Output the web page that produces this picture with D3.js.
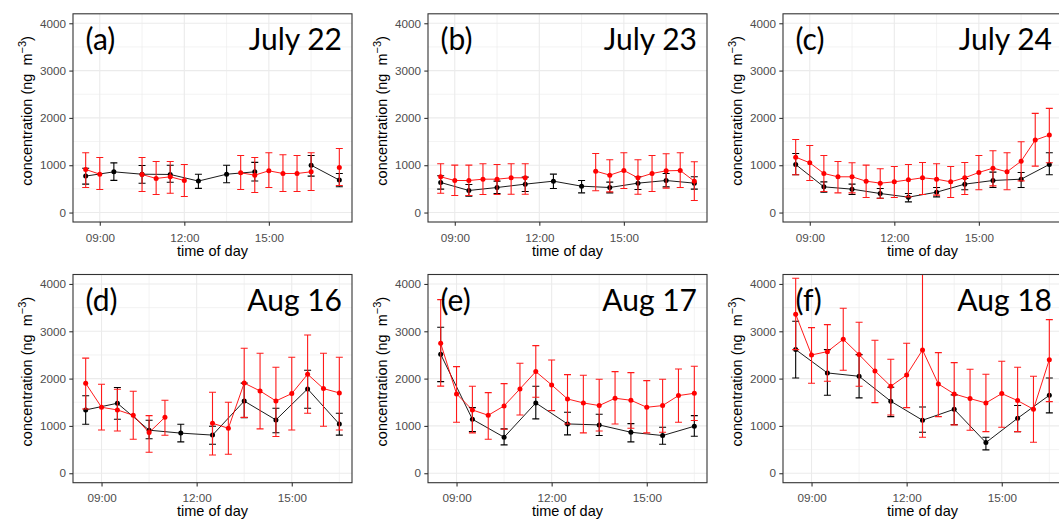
<!DOCTYPE html>
<html><head><meta charset="utf-8">
<script src="https://cdn.jsdelivr.net/npm/d3@7"></script>
<style>
html,body{margin:0;padding:0;background:#fff;}
svg{display:block;}
</style>
</head><body>
<script>
// ---------------- data ----------------
const panelLetters = ["(a)", "(b)", "(c)", "(d)", "(e)", "(f)"];
const panelDates = ["July 22", "July 23", "July 24", "Aug 16", "Aug 17", "Aug 18"];
const yTickValues = [0, 1000, 2000, 3000, 4000];
const xTickLabels = ["09:00", "12:00", "15:00"];

// July days: half-hourly (red) and hourly (black) times
const julyHalfTimes = ["08:30","09:00","09:30","10:00","10:30","11:00","11:30","12:00","12:30","13:00","13:30","14:00","14:30","15:00","15:30","16:00","16:30","17:00","17:30"];
const julyHourTimes = ["08:30","09:30","10:30","11:30","12:30","13:30","14:30","15:30","16:30","17:30"];
// August days
const augHalfTimes = ["08:30","09:00","09:30","10:00","10:30","11:00","11:30","12:00","12:30","13:00","13:30","14:00","14:30","15:00","15:30","16:00","16:30"];
const augHourTimes = ["08:30","09:30","10:30","11:30","12:30","13:30","14:30","15:30","16:30"];

// (a) July 22
const aBlack   = [770, 860, 810, 805, 665, 810, 860, null, 1000, 685];
const aBlackLo = [600, 680, 620, 640, 510, 630, 665, null, 770, 545];
const aBlackHi = [935, 1050, 995, 1000, 810, 1000, 1060, null, 1205, 825];
const aRed     = [910, 811, null, null, 804, 720, 755, 677, null, null, null, 840, 790, 882, 825, 825, 861, null, 952];
const aRedLo   = [530, 487, null, null, 444, 381, 409, 339, null, null, null, 487, 423, 529, 444, 444, 466, null, 571];
const aRedHi   = [1263, 1164, null, null, 1164, 1079, 1079, 1016, null, null, null, 1206, 1164, 1263, 1220, 1206, 1263, null, 1354];

// (b) July 23
const bBlack   = [635, 466, 529, 600, 663, 557, 529, 621, 677, 621];
const bBlackLo = [494, 346, 402, 444, 508, 416, 416, 487, 543, 494];
const bBlackHi = [776, 593, 663, 748, 811, 677, 642, 755, 825, 755];
const bRed     = [755, 677, 677, 705, 705, 734, 734, null, null, null, null, 875, 790, 889, 734, 825, 882, 889, 663];
const bRedLo   = [409, 360, 360, 381, 381, 388, 388, null, null, null, null, 459, 437, 508, 388, 444, 515, 529, 254];
const bRedHi   = [1030, 1002, 1002, 1030, 1016, 1030, 1030, null, null, null, null, 1249, 1115, 1263, 1115, 1206, 1242, 1263, 1072];

// (c) July 24
const cBlack   = [1016, 543, 494, 402, 325, 430, 600, 677, 705, 1016];
const cBlackLo = [797, 430, 381, 303, 226, 332, 480, 529, 529, 797];
const cBlackHi = [1249, 649, 600, 508, 402, 529, 720, 854, 847, 1263];
const cRed     = [1171, 1051, 825, 755, 755, 663, 621, 649, 691, 734, 705, 649, 734, 847, 938, 861, 1086, 1531, 1637];
const cRedLo   = [797, 677, 444, 416, 416, 317, 303, 317, 332, 381, 367, 317, 381, 480, 564, 480, 670, 981, 1051];
const cRedHi   = [1545, 1418, 1206, 1079, 1051, 1002, 924, 974, 1016, 1058, 1030, 974, 1058, 1206, 1305, 1263, 1496, 2095, 2201];

// (d) Aug 16
const dBlack   = [1338, 1479, 910, 848, 806, 1525, 1127, 1782, 1040];
const dBlackLo = [1035, 1141, 730, 662, 613, 1176, 855, 1373, 806];
const dBlackHi = [1638, 1812, 1120, 1035, 993, 1905, 1373, 2176, 1268];
const dRed     = [1901, 1394, 1338, 1225, 859, 1183, null, null, 1056, 951, 1905, 1739, 1528, 1683, 2092, 1789, 1697];
const dRedLo   = [1359, 915, 894, 718, 444, 803, null, null, 385, 401, 1180, 937, 775, 915, 1268, 993, 915];
const dRedHi   = [2432, 1880, 1775, 1732, 1218, 1542, null, null, 1711, 1500, 2641, 2535, 2239, 2451, 2923, 2535, 2451];

// (e) Aug 17
const eBlack   = [2514, 1141, 761, 1486, 1042, 1021, 866, 796, 993];
const eBlackLo = [1937, 880, 599, 1148, 810, 796, 662, 613, 782];
const eBlackHi = [3085, 1387, 937, 1838, 1289, 1246, 1049, 972, 1218];
const eRed     = [2746, 1676, 1338, 1225, 1423, 1782, 2148, 1866, 1570, 1486, 1430, 1585, 1542, 1394, 1430, 1641, 1690];
const eRedLo   = [1841, 1077, 852, 718, 930, 1232, 1606, 1324, 1042, 852, 894, 1042, 951, 852, 866, 1077, 1113];
const eRedHi   = [3669, 2254, 1838, 1704, 1894, 2324, 2697, 2394, 2085, 2070, 1986, 2148, 2127, 1958, 1986, 2204, 2261];

// (f) Aug 18
const fBlack   = [2613, 2120, 2049, 1521, 1120, 1352, 648, 1162, 1648];
const fBlackLo = [2014, 1648, 1592, 1197, 866, 1028, 493, 880, 1275];
const fBlackHi = [3211, 2613, 2507, 1817, 1401, 1655, 761, 1430, 2014];
const fRed     = [3359, 2500, 2570, 2831, 2507, 2162, 1838, 2077, 2606, 1887, 1676, 1577, 1486, 1683, 1535, 1352, 2401];
const fRedLo   = [2613, 1901, 1944, 2176, 1838, 1493, 1232, 1387, 761, 1197, 1021, 908, 880, 972, 880, 655, 1514];
const fRedHi   = [4120, 3077, 3141, 3486, 3190, 2810, 2408, 2746, 4600, 2549, 2338, 2197, 2092, 2366, 2239, 2049, 3246];

// ---------------- build ----------------
const toHours = s => { const [h, m] = s.split(":").map(Number); return h + m / 60; };
const zip = (times, v, lo, hi) => times.map((t, i) => ({ x: toHours(t), v: v[i], lo: lo[i], hi: hi[i] }));

const panels = [
  { black: zip(julyHourTimes, aBlack, aBlackLo, aBlackHi), red: zip(julyHalfTimes, aRed, aRedLo, aRedHi), xdom: [8.05, 17.95] },
  { black: zip(julyHourTimes, bBlack, bBlackLo, bBlackHi), red: zip(julyHalfTimes, bRed, bRedLo, bRedHi), xdom: [8.05, 17.95] },
  { black: zip(julyHourTimes, cBlack, cBlackLo, cBlackHi), red: zip(julyHalfTimes, cRed, cRedLo, cRedHi), xdom: [8.05, 17.95] },
  { black: zip(augHourTimes, dBlack, dBlackLo, dBlackHi), red: zip(augHalfTimes, dRed, dRedLo, dRedHi), xdom: [8.1, 16.9] },
  { black: zip(augHourTimes, eBlack, eBlackLo, eBlackHi), red: zip(augHalfTimes, eRed, eRedLo, eRedHi), xdom: [8.1, 16.9] },
  { black: zip(augHourTimes, fBlack, fBlackLo, fBlackHi), red: zip(augHalfTimes, fRed, fRedLo, fRedHi), xdom: [8.1, 16.9] }
];

const W = 1059, H = 519;
const colLeft = [73, 428, 783];
const rowTop = [13.8, 274.5];
const pw = 279, ph = 208.2;
const capHalf = 3.5;

const svg = d3.select("body").append("svg").attr("width", W).attr("height", H);
svg.append("rect").attr("width", W).attr("height", H).attr("fill", "#fff");
const defs = svg.append("defs");

panels.forEach((p, i) => {
  const L = colLeft[i % 3], T = rowTop[Math.floor(i / 3)];
  const x = d3.scaleLinear().domain(p.xdom).range([L, L + pw]);
  const y = d3.scaleLinear().domain([-200, 4200]).range([T + ph, T]);
  const g = svg.append("g");
  const cid = "clip" + i;
  defs.append("clipPath").attr("id", cid).append("rect")
    .attr("x", L).attr("y", T).attr("width", pw).attr("height", ph);

  // grid
  const grid = g.append("g");
  const minorY = [500, 1500, 2500, 3500];
  const minorX = [10.5, 13.5, 16.5];
  grid.selectAll(".my").data(minorY).join("line")
    .attr("x1", L).attr("x2", L + pw).attr("y1", d => y(d)).attr("y2", d => y(d))
    .attr("stroke", "#ebebeb").attr("stroke-width", 0.6);
  grid.selectAll(".mx").data(minorX).join("line")
    .attr("y1", T).attr("y2", T + ph).attr("x1", d => x(d)).attr("x2", d => x(d))
    .attr("stroke", "#ebebeb").attr("stroke-width", 0.6);
  grid.selectAll(".Y").data(yTickValues).join("line")
    .attr("x1", L).attr("x2", L + pw).attr("y1", d => y(d)).attr("y2", d => y(d))
    .attr("stroke", "#ebebeb").attr("stroke-width", 1.1);
  grid.selectAll(".X").data([9, 12, 15]).join("line")
    .attr("y1", T).attr("y2", T + ph).attr("x1", d => x(d)).attr("x2", d => x(d))
    .attr("stroke", "#ebebeb").attr("stroke-width", 1.1);

  const plot = g.append("g").attr("clip-path", `url(#${cid})`);

  function drawSeries(data, color, barColor) {
    const pts = data.filter(d => d.v != null);
    const eb = plot.append("g").attr("stroke", barColor).attr("stroke-width", 1.1).attr("fill", "none");
    pts.forEach(d => {
      eb.append("line").attr("x1", x(d.x)).attr("x2", x(d.x)).attr("y1", y(d.lo)).attr("y2", y(d.hi));
      eb.append("line").attr("x1", x(d.x) - capHalf).attr("x2", x(d.x) + capHalf).attr("y1", y(d.lo)).attr("y2", y(d.lo));
      eb.append("line").attr("x1", x(d.x) - capHalf).attr("x2", x(d.x) + capHalf).attr("y1", y(d.hi)).attr("y2", y(d.hi));
    });
    const line = d3.line().defined(d => d.v != null).x(d => x(d.x)).y(d => y(d.v));
    plot.append("path").datum(data).attr("d", line)
      .attr("fill", "none").attr("stroke", color).attr("stroke-width", 0.9);
    plot.append("g").selectAll("circle").data(pts).join("circle")
      .attr("cx", d => x(d.x)).attr("cy", d => y(d.v)).attr("r", 2.5).attr("fill", color);
  }
  drawSeries(p.black, "#000000", "#000000");
  drawSeries(p.red, "#ff0000", "#ff1a1a");

  // frame
  g.append("rect").attr("x", L).attr("y", T).attr("width", pw).attr("height", ph)
    .attr("fill", "none").attr("stroke", "#333333").attr("stroke-width", 1.1);

  // axes
  const ya = g.append("g").attr("transform", `translate(${L},0)`)
    .call(d3.axisLeft(y).tickValues(yTickValues).tickSize(3.7).tickPadding(3.3).tickFormat(d3.format("d")));
  const xa = g.append("g").attr("transform", `translate(0,${T + ph})`)
    .call(d3.axisBottom(x).tickValues([9, 12, 15]).tickSize(3.7).tickFormat((d, k) => xTickLabels[k]));
  [ya, xa].forEach(a => {
    a.select(".domain").remove();
    a.selectAll(".tick line").attr("stroke", "#333333").attr("stroke-width", 1.1);
    a.selectAll(".tick text").attr("fill", "#4d4d4d")
      .style("font-family", "'Liberation Sans', Arial, sans-serif").style("font-size", "11.7px");
  });
  xa.selectAll(".tick text").attr("y", 19.6).attr("dy", null);

  // axis titles
  g.append("text").attr("x", L + pw / 2).attr("y", T + ph + 33.5)
    .attr("text-anchor", "middle")
    .style("font-family", "'Liberation Sans', Arial, sans-serif").style("font-size", "14.5px")
    .attr("fill", "#000").text("time of day");
  const yt = g.append("text")
    .attr("transform", `translate(${L - 41.5},${T + ph / 2 - 7}) rotate(-90)`)
    .attr("text-anchor", "middle")
    .style("font-family", "'Liberation Sans', Arial, sans-serif").style("font-size", "14.5px")
    .attr("fill", "#000");
  yt.append("tspan").text("concentration (ng\u00a0\u00a0m");
  yt.append("tspan").attr("dy", -6).style("font-size", "11px").text("\u22123");
  yt.append("tspan").attr("dy", 6).text(")");

  // panel labels
  g.append("text").attr("x", L + 12.5).attr("y", T + 36.5)
    .style("font-family", "Lato, 'Open Sans', sans-serif").style("font-size", "30px")
    .attr("fill", "#000").text(panelLetters[i]);
  g.append("text").attr("x", L + pw - 10).attr("y", T + 36.5).attr("text-anchor", "end")
    .style("font-family", "Lato, 'Open Sans', sans-serif").style("font-size", "30px")
    .attr("fill", "#000").text(panelDates[i]);
});
</script>
</body></html>
